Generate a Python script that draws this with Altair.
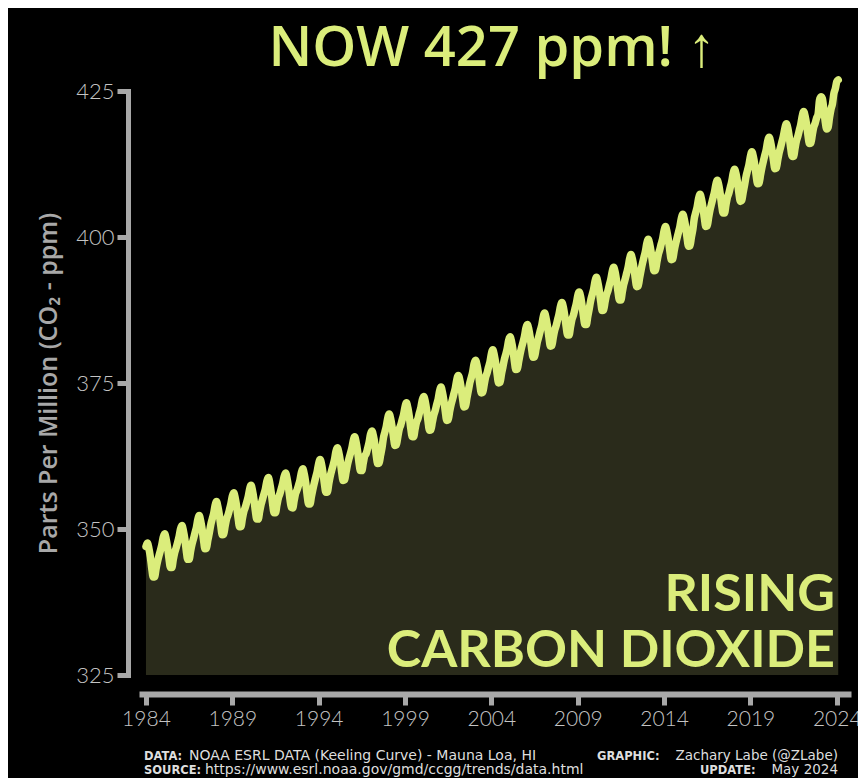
import altair as alt
import pandas as pd

# ---------------- data (monthly mean CO2, Mauna Loa, ppm) ----------------
start_month_1984 = 4   # series begins in April 1984
co2_by_year = {
    1984: [347.0, 347.6, 346.7, 345.3, 343.3, 341.8, 341.8, 343.2, 344.4],
    1985: [345.4, 346.3, 347.3, 348.6, 349.2, 348.3, 346.9, 344.9, 343.4, 343.4, 344.8, 346.0],
    1986: [346.8, 347.7, 348.7, 350.0, 350.6, 349.7, 348.3, 346.3, 344.8, 344.8, 346.2, 347.4],
    1987: [348.3, 349.3, 350.2, 351.6, 352.3, 351.4, 350.0, 348.1, 346.6, 346.7, 348.1, 349.3],
    1988: [350.7, 351.7, 352.6, 354.0, 354.7, 353.8, 352.4, 350.5, 349.0, 349.1, 350.5, 351.7],
    1989: [352.4, 353.3, 354.3, 355.6, 356.2, 355.3, 353.9, 351.9, 350.4, 350.4, 351.8, 353.0],
    1990: [353.7, 354.6, 355.5, 356.8, 357.5, 356.6, 355.1, 353.1, 351.7, 351.7, 353.0, 354.2],
    1991: [355.1, 356.0, 356.9, 358.2, 358.8, 357.9, 356.3, 354.3, 352.8, 352.8, 354.1, 355.3],
    1992: [356.0, 356.9, 357.8, 359.0, 359.6, 358.7, 357.2, 355.2, 353.7, 353.6, 354.9, 356.1],
    1993: [356.7, 357.5, 358.4, 359.7, 360.3, 359.4, 357.9, 355.8, 354.3, 354.3, 355.6, 356.8],
    1994: [357.9, 358.9, 359.9, 361.2, 361.9, 361.1, 359.6, 357.7, 356.3, 356.3, 357.7, 359.0],
    1995: [360.0, 360.9, 361.9, 363.3, 363.9, 363.1, 361.7, 359.7, 358.3, 358.4, 359.7, 361.0],
    1996: [362.0, 362.9, 363.8, 365.1, 365.8, 364.9, 363.4, 361.4, 360.0, 360.0, 361.3, 362.5],
    1997: [362.9, 363.8, 364.8, 366.2, 366.8, 366.0, 364.6, 362.6, 361.2, 361.3, 362.6, 363.9],
    1998: [365.6, 366.6, 367.6, 369.0, 369.7, 368.9, 367.5, 365.7, 364.3, 364.4, 365.8, 367.1],
    1999: [367.8, 368.7, 369.6, 370.9, 371.6, 370.7, 369.2, 367.2, 365.8, 365.8, 367.1, 368.3],
    2000: [368.9, 369.9, 370.8, 372.1, 372.7, 371.9, 370.4, 368.4, 366.9, 367.0, 368.3, 369.5],
    2001: [370.3, 371.3, 372.2, 373.6, 374.3, 373.4, 372.0, 370.1, 368.6, 368.7, 370.1, 371.3],
    2002: [372.2, 373.2, 374.2, 375.6, 376.3, 375.6, 374.2, 372.3, 370.9, 371.0, 372.4, 373.7],
    2003: [375.0, 375.9, 376.9, 378.3, 378.9, 378.1, 376.7, 374.7, 373.3, 373.4, 374.7, 376.0],
    2004: [376.7, 377.7, 378.6, 380.0, 380.7, 379.8, 378.4, 376.5, 375.0, 375.1, 376.5, 377.7],
    2005: [379.0, 379.9, 380.9, 382.3, 382.9, 382.1, 380.7, 378.7, 377.3, 377.4, 378.7, 380.0],
    2006: [381.1, 382.0, 383.0, 384.4, 385.0, 384.2, 382.8, 380.8, 379.4, 379.5, 380.8, 382.1],
    2007: [383.0, 384.0, 384.9, 386.3, 387.0, 386.1, 384.7, 382.8, 381.3, 381.4, 382.8, 384.0],
    2008: [384.8, 385.8, 386.8, 388.1, 388.8, 388.0, 386.5, 384.6, 383.2, 383.2, 384.6, 385.9],
    2009: [386.6, 387.6, 388.6, 389.9, 390.6, 389.8, 388.3, 386.4, 385.0, 385.0, 386.4, 387.7],
    2010: [389.1, 390.1, 391.0, 392.4, 393.1, 392.2, 390.8, 388.9, 387.4, 387.5, 388.9, 390.1],
    2011: [390.8, 391.8, 392.8, 394.1, 394.8, 394.0, 392.5, 390.6, 389.2, 389.2, 390.6, 391.9],
    2012: [392.8, 393.8, 394.8, 396.2, 397.0, 396.2, 394.8, 392.9, 391.5, 391.6, 393.0, 394.3],
    2013: [395.5, 396.5, 397.5, 398.9, 399.6, 398.8, 397.4, 395.6, 394.2, 394.3, 395.7, 397.0],
    2014: [397.8, 398.8, 399.7, 401.1, 401.8, 400.9, 399.5, 397.6, 396.1, 396.2, 397.6, 398.8],
    2015: [399.8, 400.8, 401.8, 403.2, 403.9, 403.1, 401.7, 399.8, 398.4, 398.5, 400.0, 401.3],
    2016: [403.2, 404.2, 405.2, 406.6, 407.3, 406.5, 405.1, 403.2, 401.8, 401.9, 403.4, 404.7],
    2017: [405.7, 406.7, 407.7, 409.0, 409.7, 408.9, 407.4, 405.5, 404.1, 404.1, 405.5, 406.8],
    2018: [407.5, 408.5, 409.5, 410.9, 411.6, 410.8, 409.4, 407.5, 406.1, 406.3, 407.7, 409.0],
    2019: [410.4, 411.4, 412.4, 413.8, 414.6, 413.8, 412.4, 410.5, 409.1, 409.2, 410.6, 411.9],
    2020: [413.0, 414.0, 415.0, 416.4, 417.1, 416.3, 414.9, 413.1, 411.7, 411.8, 413.2, 414.5],
    2021: [415.4, 416.4, 417.4, 418.7, 419.4, 418.6, 417.1, 415.2, 413.8, 413.8, 415.2, 416.5],
    2022: [417.3, 418.3, 419.3, 420.7, 421.5, 420.7, 419.3, 417.4, 416.0, 416.1, 417.5, 418.8],
    2023: [419.5, 420.4, 421.0, 423.4, 424.0, 423.7, 421.8, 419.7, 418.5, 418.8, 420.5, 421.9],
    2024: [422.8, 424.6, 425.4, 426.6, 426.9],
}

y_ticks = [325, 350, 375, 400, 425]
x_tick_years = [1984, 1989, 1994, 1999, 2004, 2009, 2014, 2019, 2024]

title_text = ["NOW 427 ppm! \u2191"]
big_label_lines = ["RISING", "CARBON DIOXIDE"]
y_title = "Parts Per Million (CO\u2082 - ppm)"
footer_bold = ["DATA:", "SOURCE:", "GRAPHIC:", "UPDATE:"]
footer_text = [
    "NOAA ESRL DATA (Keeling Curve) - Mauna Loa, HI",
    "https://www.esrl.noaa.gov/gmd/ccgg/trends/data.html",
    "Zachary Labe (@ZLabe)",
    "May 2024",
]

# ---------------- table ----------------
rows = []
for yr, vals in co2_by_year.items():
    m0 = start_month_1984 if yr == 1984 else 1
    for i, v in enumerate(vals):
        m = m0 + i
        rows.append({"t": yr + (m - 1) / 12.0, "co2": v})
df = pd.DataFrame(rows)

# ---------------- style ----------------
LINE = "#dbed7b"
FILL = "#2a2b1b"
GREY = "#a8a8a8"
LABEL = "#c4c4c4"
FOOT = "#dedede"
W, H = 706, 584

x_scale = alt.Scale(domain=[1984.02, 2024.9], nice=False, zero=False)
y_scale = alt.Scale(domain=[325, 425], nice=False, zero=False)

x_axis = alt.Axis(
    values=[y + 0.25 for y in x_tick_years],
    labelExpr="format(floor(datum.value), 'd')",
    offset=19, domainColor=GREY, domainWidth=6, domainCap="square",
    tickColor=GREY, tickWidth=5, tickSize=11, ticks=True,
    labelColor=LABEL, labelFont="Lato", labelFontWeight=300, labelFontSize=21,
    labelPadding=3, labelFlush=False, grid=False, title=None,
)
y_axis = alt.Axis(
    values=y_ticks, offset=14, domainColor=GREY, domainWidth=5, domainCap="square",
    tickColor=GREY, tickWidth=5, tickSize=11,
    labelColor=LABEL, labelFont="Lato", labelFontWeight=300, labelFontSize=22,
    labelPadding=3, grid=False,
    title=y_title, titleColor=GREY, titleFont="Open Sans", titleFontWeight=600,
    titleFontSize=25, titlePadding=14,
)

base = alt.Chart(df).encode(x=alt.X("t:Q", scale=x_scale, axis=x_axis))
area = base.mark_area(color=FILL, interpolate="monotone").encode(
    y=alt.Y("co2:Q", scale=y_scale, axis=y_axis), y2=alt.datum(325)
)
line = base.mark_line(
    color=LINE, strokeWidth=7.5, strokeCap="round", strokeJoin="round",
    interpolate="monotone",
).encode(y=alt.Y("co2:Q", scale=y_scale))

title = alt.Chart(pd.DataFrame({"s": title_text})).mark_text(
    font="Open Sans", fontWeight=600, fontSize=56, color=LINE, align="center", baseline="alphabetic"
).encode(x=alt.value(350), y=alt.value(-25), text="s:N")

rising = alt.Chart(pd.DataFrame({"s": [big_label_lines[0]]})).mark_text(
    font="Lato", fontWeight="bold", fontSize=52, color=LINE, align="right", baseline="alphabetic"
).encode(x=alt.value(693), y=alt.value(520), text="s:N")
carbon = alt.Chart(pd.DataFrame({"s": [big_label_lines[1]]})).mark_text(
    font="Lato", fontWeight="bold", fontSize=52, color=LINE, align="right", baseline="alphabetic"
).encode(x=alt.value(693), y=alt.value(576), text="s:N")

def ftxt(s, x, y, bold, align, size):
    return alt.Chart(pd.DataFrame({"s": [s]})).mark_text(
        font="DejaVu Sans", fontWeight="bold" if bold else "normal",
        fontSize=size, color=FOOT, align=align, baseline="alphabetic"
    ).encode(x=alt.value(x), y=alt.value(y), text="s:N")

footer = [
    ftxt(footer_bold[0], 2, 669, True, "left", 11.5),
    ftxt(footer_text[0], 47, 669, False, "left", 14),
    ftxt(footer_bold[1], 2, 683, True, "left", 11.5),
    ftxt(footer_text[1], 63, 683, False, "left", 14),
    ftxt(footer_bold[2], 455, 669, True, "left", 11.5),
    ftxt(footer_text[2], 696, 669, False, "right", 13.5),
    ftxt(footer_bold[3], 558, 683, True, "left", 11.5),
    ftxt(footer_text[3], 696, 683, False, "right", 13.5),
]

chart = alt.layer(area, line, title, rising, carbon, *footer).properties(
    width=W, height=H,
    autosize=alt.AutoSizeParams(type="none"),
    padding={"left": 134, "top": 83, "right": 10, "bottom": 103},
).configure(background="#000000").configure_view(stroke=None)

chart.save("out.html", embed_options={"renderer": "svg", "actions": False})
